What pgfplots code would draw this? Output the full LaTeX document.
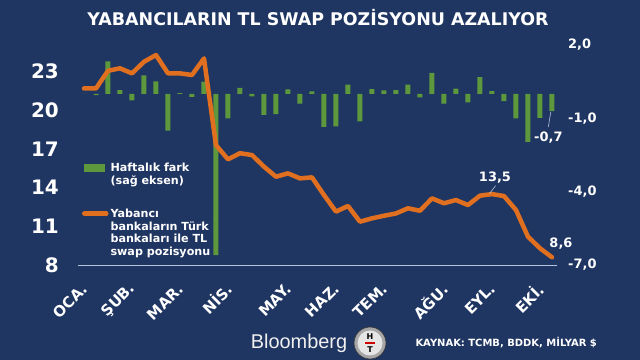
\documentclass[border=0pt]{standalone}
\usepackage{pgfplots}
\pgfplotsset{compat=1.18}
\usepackage{fontspec}
\setmainfont{DejaVu Sans}
\newfontfamily\bbfont{Liberation Sans}
\definecolor{bg}{HTML}{1F3562}
\definecolor{grn}{HTML}{5E983C}
\definecolor{org}{HTML}{E0701F}
\definecolor{axl}{HTML}{B8C4DC}

\pgfplotstableread{
i v
0 0
1 -0.05
2 1.33
3 0.15
4 -0.27
5 0.76
6 0.51
7 -1.5
8 0.03
9 -0.12
10 0.5
11 -6.6
12 -1.0
13 0.25
14 -0.1
15 -0.86
16 -0.83
17 0.18
18 -0.4
19 0.1
20 -1.35
21 -1.33
22 0.38
23 -1.12
24 0.2
25 0.14
26 0.15
27 0.38
28 -0.14
29 0.86
30 -0.4
31 0.22
32 -0.35
33 0.69
34 0.11
35 -0.3
36 -1.0
37 -1.96
38 -0.98
39 -0.7
}\weekly

\pgfplotstableread{
i v
0 21.7
1 21.7
2 23.07
3 23.26
4 22.87
5 23.77
6 24.29
7 22.87
8 22.87
9 22.74
10 24.03
11 17.3
12 16.2
13 16.67
14 16.53
15 15.63
16 14.85
17 15.11
18 14.72
19 14.8
20 13.43
21 12.14
22 12.58
23 11.36
24 11.62
25 11.82
26 12.0
27 12.4
28 12.21
29 13.17
30 12.79
31 13.04
32 12.65
33 13.38
34 13.5
35 13.35
36 12.27
37 10.2
38 9.3
39 8.6
}\swap

\begin{document}
\begin{tikzpicture}
\fill[bg] (0bp,0bp) rectangle (640bp,360bp);
\useasboundingbox (0bp,0bp) rectangle (640bp,360bp);
\node[text=white, font=\fontsize{17.5}{20}\selectfont\bfseries] at (318bp,342bp) {YABANCILARIN TL SWAP POZİSYONU AZALIYOR};

% weekly bars, right axis
\begin{axis}[at={(78bp,95bp)}, anchor=south west, scale only axis,
  width=479bp, height=220bp,
  xmin=-0.5, xmax=39.42, ymin=-7, ymax=2,
  hide x axis,
  axis y line*=right, y axis line style={draw=none},
  ytick={-7,-4,-1,2}, yticklabels={{-7,0},{-4,0},{-1,0},{2,0}},
  major tick length=0,
  yticklabel style={anchor=west, inner sep=0pt, xshift=11bp, text=white, font=\fontsize{13}{15}\selectfont\bfseries},
  clip=false]
\addplot[ybar, bar width=5bp, fill=grn, draw=none] table[x=i, y=v] {\weekly};
\draw[axl, line width=0.6bp] (axis cs:38.9,-0.74) -- (axis cs:38.7,-1.35);
\node[text=white, font=\fontsize{13}{15}\selectfont\bfseries] at (axis cs:38.7,-1.77) {-0,7};
\end{axis}

% swap position, left axis
\begin{axis}[at={(78bp,95bp)}, anchor=south west, scale only axis,
  width=479bp, height=220bp,
  xmin=-0.5, xmax=39.42, ymin=8, ymax=25.07,
  axis x line*=bottom, x axis line style={axl, line width=0.8bp, -},
  axis y line*=left, y axis line style={draw=none},
  xtick={0,4,8,12,17,21,25,30,34,38},
  xticklabels={OCA.,ŞUB.,MAR.,NİS.,MAY.,HAZ.,TEM.,AĞU.,EYL.,EKİ.},
  xticklabel style={xshift=1bp, yshift=-21bp, rotate=45, anchor=east, inner sep=0pt, text=white, font=\fontsize{15}{17}\selectfont\bfseries},
  ytick={8,11,14,17,20,23},
  yticklabel style={anchor=east, inner sep=0pt, xshift=-19bp, text=white, font=\fontsize{20}{22}\selectfont\bfseries},
  /pgf/number format/assume math mode=true,
  major tick length=0, clip=false,
  legend cell align=left,
  legend style={at={(0.008,0.475)}, anchor=north west, draw=none, fill=none, inner sep=0pt,
    text=white, font=\fontsize{11.2}{13}\selectfont\bfseries, nodes={align=left}, row sep=19bp}]
\addlegendimage{legend image code/.code={\fill[grn] (0bp,3bp) rectangle (20bp,10bp);}}
\addlegendentry{Haftalık fark\\(sağ eksen)}
\addplot[org, line width=4.5bp, line join=round, line cap=round,
  legend image code/.code={\draw[org, line width=4.5bp] (0bp,19.5bp) -- (22bp,19.5bp);}]
  table[x=i, y=v] {\swap};
\addlegendentry{Yabancı\\bankaların Türk\\bankaları ile TL\\swap pozisyonu}
\draw[axl, line width=0.6bp] (axis cs:34.3,14.15) -- (axis cs:33.8,13.55);
\node[text=white, font=\fontsize{13}{15}\selectfont\bfseries] at (axis cs:34.25,14.75) {13,5};
\node[text=white, font=\fontsize{13}{15}\selectfont\bfseries] at (axis cs:39.75,9.63) {8,6};
\end{axis}

% footer
\node[text=white!88!gray, font=\bbfont\fontsize{20}{22}\selectfont] at (299bp,17bp) {Bloomberg};
\fill[gray!70] (370bp,17bp) circle (16bp);
\fill[white!80!gray] (370bp,17bp) circle (12.5bp);
\draw[gray!40!black, line width=0.6bp] (370bp,17bp) circle (16bp);
\node[font=\fontsize{8}{8}\selectfont\bfseries, text=black] at (370bp,23bp) {H};
\fill[red!80!black] (365bp,16bp) rectangle (375bp,18bp);
\node[font=\fontsize{8}{8}\selectfont\bfseries, text=black] at (370bp,10.5bp) {T};
\node[text=white, font=\fontsize{10}{12}\selectfont\bfseries, anchor=west] at (412bp,17bp) {KAYNAK: TCMB, BDDK, MİLYAR \$};
\end{tikzpicture}
\end{document}
